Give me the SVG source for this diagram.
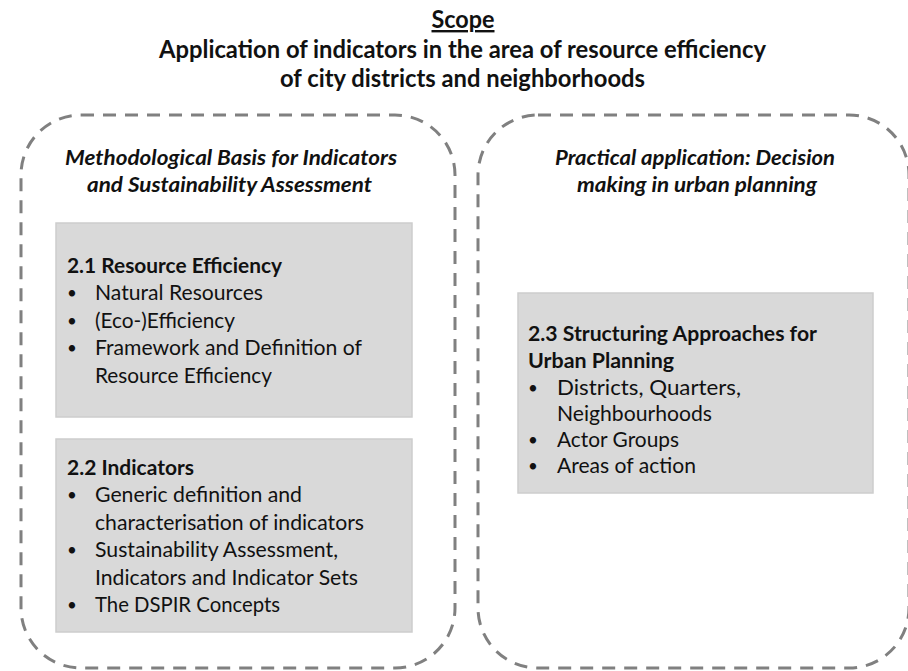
<svg xmlns="http://www.w3.org/2000/svg" width="908" height="671" viewBox="0 0 908 671">
  <style>
    .title { font-family: Lato, "Open Sans", "Liberation Sans", sans-serif; font-weight: bold; font-size: 24px; fill: #111; text-anchor: middle; }
    .head { font-family: Lato, "Open Sans", "Liberation Sans", sans-serif; font-weight: bold; font-style: italic; font-size: 21px; fill: #111; text-anchor: middle; }
    .frame { fill: none; stroke: #808080; stroke-width: 3; stroke-dasharray: 13 9; }
    .box { fill: #d9d9d9; stroke: #cdcdcd; stroke-width: 1.5; }
    .bt { font-family: Lato, "Open Sans", "Liberation Sans", sans-serif; font-weight: bold; font-size: 21px; fill: #111; }
    .tx { font-family: Lato, "Open Sans", "Liberation Sans", sans-serif; font-size: 21px; fill: #111; }
    .dot { font-family: Lato, "Open Sans", "Liberation Sans", sans-serif; font-size: 17px; fill: #111; }
  </style>
  <rect width="908" height="671" fill="#ffffff"/>

  <!-- Heading -->
  <g id="title">
    <text class="title" x="463" y="28" text-decoration="underline" textLength="63" lengthAdjust="spacingAndGlyphs">Scope</text>
    <text class="title" x="462.5" y="58" textLength="607" lengthAdjust="spacingAndGlyphs">Application of indicators in the area of resource efficiency</text>
    <text class="title" x="462.5" y="87" textLength="365" lengthAdjust="spacingAndGlyphs">of city districts and neighborhoods</text>
  </g>

  <!-- Left column: methodological basis -->
  <g id="methodology">
    <rect class="frame" x="21" y="115" width="434" height="553" rx="60" ry="60"/>
    <text class="head" x="231" y="165" textLength="332" lengthAdjust="spacingAndGlyphs">Methodological Basis for Indicators</text>
    <text class="head" x="229.5" y="192" textLength="285" lengthAdjust="spacingAndGlyphs">and Sustainability Assessment</text>
  </g>

  <!-- Right column: practical application -->
  <g id="application">
    <rect class="frame" x="478" y="115" width="431" height="553" rx="60" ry="60"/>
    <text class="head" x="695" y="165" textLength="280" lengthAdjust="spacingAndGlyphs">Practical application: Decision</text>
    <text class="head" x="697" y="192" textLength="240" lengthAdjust="spacingAndGlyphs">making in urban planning</text>
  </g>

  <!-- 2.1 Resource Efficiency -->
  <g id="resource-efficiency">
    <rect class="box" x="56" y="223" width="356" height="194"/>
    <text class="bt" x="67" y="273" textLength="215" lengthAdjust="spacingAndGlyphs">2.1 Resource Efficiency</text>
    <text class="dot" x="67" y="299">•</text>
    <text class="tx" x="95" y="300" textLength="168" lengthAdjust="spacingAndGlyphs">Natural Resources</text>
    <text class="dot" x="67" y="327">•</text>
    <text class="tx" x="95" y="328" textLength="140" lengthAdjust="spacingAndGlyphs">(Eco-)Efficiency</text>
    <text class="dot" x="67" y="354">•</text>
    <text class="tx" x="95" y="355" textLength="267" lengthAdjust="spacingAndGlyphs">Framework and Definition of</text>
    <text class="tx" x="95" y="383" textLength="177" lengthAdjust="spacingAndGlyphs">Resource Efficiency</text>
  </g>

  <!-- 2.2 Indicators -->
  <g id="indicators">
    <rect class="box" x="56" y="439" width="356" height="193"/>
    <text class="bt" x="67" y="475" textLength="127" lengthAdjust="spacingAndGlyphs">2.2 Indicators</text>
    <text class="dot" x="67" y="501">•</text>
    <text class="tx" x="95" y="502" textLength="207" lengthAdjust="spacingAndGlyphs">Generic definition and</text>
    <text class="tx" x="95" y="530" textLength="269" lengthAdjust="spacingAndGlyphs">characterisation of indicators</text>
    <text class="dot" x="67" y="556">•</text>
    <text class="tx" x="95" y="557" textLength="243" lengthAdjust="spacingAndGlyphs">Sustainability Assessment,</text>
    <text class="tx" x="95" y="585" textLength="263" lengthAdjust="spacingAndGlyphs">Indicators and Indicator Sets</text>
    <text class="dot" x="67" y="611">•</text>
    <text class="tx" x="95" y="612" textLength="185" lengthAdjust="spacingAndGlyphs">The DSPIR Concepts</text>
  </g>

  <!-- 2.3 Structuring Approaches -->
  <g id="structuring">
    <rect class="box" x="518" y="293" width="355" height="200"/>
    <text class="bt" x="528" y="341" textLength="289" lengthAdjust="spacingAndGlyphs">2.3 Structuring Approaches for</text>
    <text class="bt" x="528" y="368" textLength="146" lengthAdjust="spacingAndGlyphs">Urban Planning</text>
    <text class="dot" x="528" y="394">•</text>
    <text class="tx" x="557" y="395" textLength="184" lengthAdjust="spacingAndGlyphs">Districts, Quarters,</text>
    <text class="tx" x="557" y="421" textLength="155" lengthAdjust="spacingAndGlyphs">Neighbourhoods</text>
    <text class="dot" x="528" y="446">•</text>
    <text class="tx" x="557" y="447" textLength="122" lengthAdjust="spacingAndGlyphs">Actor Groups</text>
    <text class="dot" x="528" y="472">•</text>
    <text class="tx" x="557" y="473" textLength="139" lengthAdjust="spacingAndGlyphs">Areas of action</text>
  </g>

  <!-- no connectors in this layout -->
  <g id="connectors"/>
</svg>
